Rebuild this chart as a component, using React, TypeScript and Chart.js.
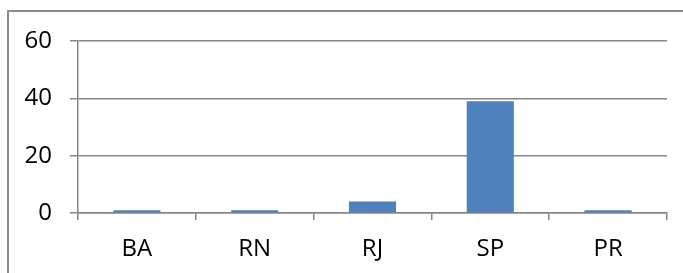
import React, { useEffect, useRef } from "react";
import { Chart, registerables } from "chart.js";

Chart.register(...registerables);

const categories = ["BA", "RN", "RJ", "SP", "PR"];
const values = [1, 1, 4, 39, 1];
const yTicks = [0, 20, 40, 60];

const frame = {
  id: "frame",
  afterDraw(chart: any) {
    const ctx = chart.ctx;
    ctx.save();
    ctx.strokeStyle = "#8c8c8c";
    ctx.lineWidth = 2;
    ctx.beginPath();
    ctx.moveTo(8, 273);
    ctx.lineTo(8, 11);
    ctx.lineTo(683, 11);
    ctx.stroke();
    ctx.restore();
  },
};

export default function App() {
  const ref = useRef<HTMLCanvasElement>(null);
  useEffect(() => {
    const chart = new Chart(ref.current!, {
      type: "bar",
      data: {
        labels: categories,
        datasets: [
          {
            data: values,
            backgroundColor: "#4F81BD",
            barPercentage: 0.4,
            categoryPercentage: 1,
          },
        ],
      },
      options: {
        animation: false,
        responsive: false,
        maintainAspectRatio: false,
        layout: { padding: { left: 0, top: 41, right: 16, bottom: 0 } },
        plugins: { legend: { display: false }, tooltip: { enabled: false } },
        scales: {
          x: {
            afterFit: (s: any) => {
              s.height = 60;
            },
            grid: {
              drawOnChartArea: false,
              drawTicks: true,
              tickLength: 7,
              color: "#868686",
              lineWidth: 1.5,
              offset: true,
            },
            border: { color: "#868686", width: 1.5 },
            ticks: {
              color: "#000",
              padding: 15,
              font: { family: "Open Sans", size: 24 },
            },
          },
          y: {
            min: 0,
            max: 60,
            afterFit: (s: any) => {
              s.width = 78;
            },
            afterBuildTicks: (s: any) => {
              s.ticks = yTicks.map((v) => ({ value: v }));
            },
            grid: {
              color: "#868686",
              lineWidth: 1.5,
              tickLength: 8,
            },
            border: { color: "#868686", width: 1.5 },
            ticks: {
              color: "#000",
              padding: 18,
              font: { family: "Open Sans", size: 24 },
            },
          },
        },
      },
      plugins: [frame],
    });
    return () => chart.destroy();
  }, []);
  return (
    <div style={{ position: "fixed", left: 0, top: 0, width: 683, height: 273, background: "#fff" }}>
      <canvas ref={ref} width={683} height={273} style={{ display: "block" }} />
    </div>
  );
}
